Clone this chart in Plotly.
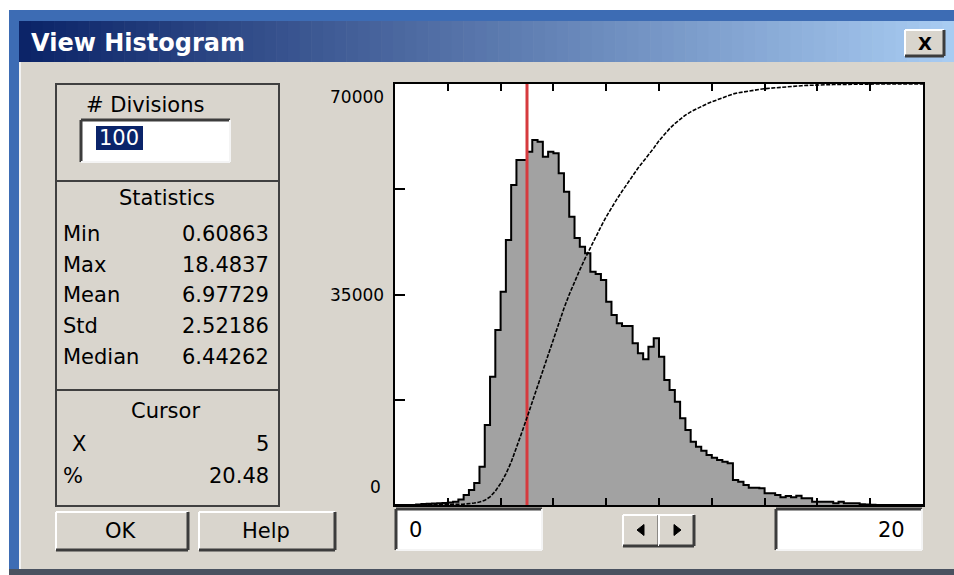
import numpy as np
import plotly.graph_objects as go

W, H = 954, 575

# ---------------- data ----------------
bin_width = 0.2
x_min, x_max = 0, 20
counts = [0, 0, 0, 20,
          100, 150, 200, 250, 300, 350, 400, 550,
          900, 1660, 2500, 3660, 6370, 13300, 21330, 29100, 35470, 44060, 53200, 57360, 57360,
          58740, 60690, 60400, 57900, 58740, 58470, 55150, 52090, 47940, 44400,
          42950, 41850, 38790, 38410, 37410, 33800, 31590, 30210, 29760, 29760,
          26880, 25220, 24220, 26320, 27720, 24660, 20780, 19120, 17180, 14420,
          12470, 10520, 9700, 9030, 8310, 7870, 7480, 7200, 6930, 4160,
          3880, 3330, 2880, 2880, 2770, 1940, 1940, 1660, 1270, 1500,
          1270, 1550, 1110, 1110, 550, 550, 550, 550, 300, 550,
          300, 300, 300, 120, 80, 40, 20, 10, 0, 0,
          0, 0, 0, 0, 0]
y_max = 70000
cursor_x = 5
x_tickvals = [2, 4, 6, 8, 10, 12, 14, 16, 18]
y_tickvals = [17500, 35000, 52500]
y_label_vals = [70000, 35000, 0]
y_label_text = ["70000", "35000", "0"]

stat_names = ["Min", "Max", "Mean", "Std", "Median"]
stat_values = ["0.60863", "18.4837", "6.97729", "2.52186", "6.44262"]
cursor_names = ["X", "%"]
cursor_values = ["5", "20.48"]
divisions = "100"
range_low, range_high = "0", "20"

# ---------------- helpers ----------------
def px(x):
    return x / W

def py(y):
    return 1 - y / H

FONT = "DejaVu Sans"
GRAY = "#d9d5cd"
DARK = "#3c3c3c"
TS = 21

shapes = []
annotations = []

def rect(x0, y0, x1, y1, fill, line=None, lw=0):
    shapes.append(dict(type="rect", xref="paper", yref="paper", layer="below",
                       x0=px(x0), x1=px(x1), y0=py(y1), y1=py(y0),
                       fillcolor=fill,
                       line=dict(color=line if line else fill, width=lw)))

def line(x0, y0, x1, y1, color, lw):
    shapes.append(dict(type="line", xref="paper", yref="paper", layer="below",
                       x0=px(x0), x1=px(x1), y0=py(y0), y1=py(y1),
                       line=dict(color=color, width=lw)))

def text(s, x, y, anchor="center", size=TS, color="black", bold=False):
    annotations.append(dict(xref="paper", yref="paper", x=px(x), y=py(y),
                            text=("<b>%s</b>" % s) if bold else s, showarrow=False,
                            xanchor=anchor, yanchor="middle",
                            font=dict(family=FONT, size=size, color=color)))

def raised(x0, y0, x1, y1):
    rect(x0, y0, x1, y1, GRAY)
    line(x0, y0, x1, y0, "#ffffff", 2)
    line(x0, y0, x0, y1, "#ffffff", 2)
    line(x0, y1, x1, y1, DARK, 3)
    line(x1, y0, x1, y1, DARK, 3)

def sunken(x0, y0, x1, y1):
    rect(x0, y0, x1, y1, "#ffffff")
    line(x0, y0, x1, y0, DARK, 3)
    line(x0, y0, x0, y1, DARK, 3)
    line(x0, y1, x1, y1, "#f4f4f4", 2)
    line(x1, y0, x1, y1, "#f4f4f4", 2)

# ---------------- window chrome ----------------
rect(0, 0, W, 10, "#ffffff")
rect(0, 0, 9, H, "#ffffff")
rect(9, 10, W, 21, "#3d6cb4")
rect(9, 10, 19, 570, "#3d6cb4")
line(20, 62, 20, 569, "#f2f2f2", 2)
rect(9, 569, W, H, "#4a5260")

# title bar gradient
c0 = np.array([12, 36, 104])
c1 = np.array([168, 204, 242])
n = 80
x_left, x_right = 19, W
for i in range(n):
    t = i / (n - 1)
    c = (c0 + (c1 - c0) * t).astype(int)
    xa = x_left + (x_right - x_left) * i / n
    xb = x_left + (x_right - x_left) * (i + 1) / n + 0.6
    rect(xa, 21, xb, 62, "rgb(%d,%d,%d)" % tuple(c))
text("View Histogram", 29, 43, anchor="left", size=24, color="white", bold=True)

# close button
raised(905, 30, 944, 56)
text("X", 925, 43, size=18, bold=True)

# ---------------- left panel ----------------
for (a, b) in [(84, 181), (181, 390), (390, 506)]:
    rect(56, a, 279, b, "rgba(0,0,0,0)", line="#404040", lw=2)

text("# Divisions", 145, 105)
sunken(81, 120, 230, 162)
rect(96, 126, 143, 150, "#0a246a")
text(divisions, 97, 138, anchor="left", color="white")

text("Statistics", 167, 198)
for i, (nm, v) in enumerate(zip(stat_names, stat_values)):
    yy = 234 + i * 30.7
    text(nm, 61, yy, anchor="left")
    text(v, 271, yy, anchor="right")

text("Cursor", 165, 411)
for i, (nm, v) in enumerate(zip(cursor_names, cursor_values)):
    yy = 444 + i * 32
    text(nm, 70 if nm == "X" else 61, yy, anchor="left")
    text(v, 271, yy, anchor="right")

raised(56, 512, 188, 550)
text("OK", 121, 531)
raised(199, 512, 335, 550)
text("Help", 266, 531)

# ---------------- bottom range controls ----------------
sunken(396, 509, 542, 550)
text(range_low, 407, 530, anchor="left")
sunken(776, 509, 922, 550)
text(range_high, 907, 530, anchor="right")
raised(623, 515, 659, 546)
raised(659, 515, 694, 546)
shapes.append(dict(type="path", xref="paper", yref="paper", layer="below",
                   path="M %f %f L %f %f L %f %f Z" % (px(637), py(530), px(644), py(524.5), px(644), py(535.5)),
                   fillcolor="black", line=dict(color="black", width=1)))
shapes.append(dict(type="path", xref="paper", yref="paper", layer="below",
                   path="M %f %f L %f %f L %f %f Z" % (px(681), py(530), px(674), py(524.5), px(674), py(535.5)),
                   fillcolor="black", line=dict(color="black", width=1)))

# ---------------- histogram plot ----------------
edges = [x_min + bin_width * i for i in range(len(counts) + 1)]
step_y = counts + [counts[-1]]
cum = np.cumsum(counts) / np.sum(counts) * y_max
cdf_y = [0.0] + list(cum)

fig = go.Figure()
fig.add_trace(go.Scatter(x=edges, y=step_y, mode="lines", line_shape="hv",
                         line=dict(color="black", width=2),
                         fill="tozeroy", fillcolor="#a2a2a2", hoverinfo="skip"))
fig.add_trace(go.Scatter(x=[cursor_x, cursor_x], y=[0, y_max], mode="lines",
                         line=dict(color="#d63a3e", width=3), hoverinfo="skip"))
fig.add_trace(go.Scatter(x=edges, y=cdf_y, mode="lines",
                         line=dict(color="black", width=1.6, dash="4px,1.5px"),
                         hoverinfo="skip"))

for v, t in zip(y_label_vals, y_label_text):
    shift = -13 if v == y_max else (18 if v == 0 else 0)
    annotations.append(dict(xref="paper", yref="y", x=px(386 if t != "0" else 383), y=v,
                            yshift=shift, text=t, showarrow=False,
                            xanchor="right", yanchor="middle",
                            font=dict(family=FONT, size=17, color="black")))

fig.update_layout(
    template="none",
    width=W, height=H,
    margin=dict(l=0, r=0, t=0, b=0, pad=0),
    paper_bgcolor=GRAY, plot_bgcolor="white",
    showlegend=False,
    shapes=shapes, annotations=annotations,
    xaxis=dict(domain=[px(395), px(923)], range=[x_min, x_max],
               showgrid=False, zeroline=False, showline=True, mirror="ticks",
               linecolor="black", linewidth=2,
               ticks="inside", tickvals=x_tickvals, ticklen=7, tickwidth=2,
               tickcolor="black", showticklabels=False, automargin=False),
    yaxis=dict(domain=[py(505), py(84)], range=[0, y_max],
               showgrid=False, zeroline=False, showline=True, mirror=True,
               linecolor="black", linewidth=2,
               ticks="inside", tickvals=y_tickvals, ticklen=10, tickwidth=2,
               tickcolor="black", showticklabels=False, automargin=False),
)

fig.write_html("out.html",
               config={"displayModeBar": False},
               post_script="document.body.style.margin='0';document.body.style.overflow='hidden';")
